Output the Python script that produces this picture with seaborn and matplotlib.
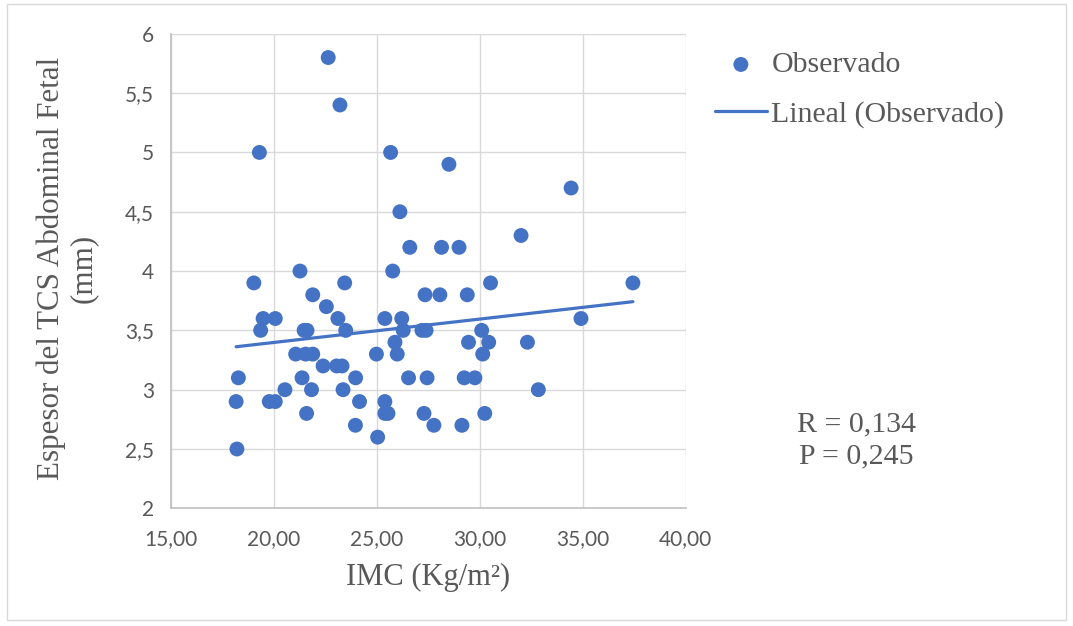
import matplotlib
matplotlib.use('Agg')
import matplotlib.pyplot as plt
import seaborn as sns
import pandas as pd
from matplotlib.patches import Rectangle

# IMC (Kg/m2) y espesor TCS (mm)
imc = [22.65, 23.22, 19.31, 25.68, 28.51, 34.44, 26.13, 32.01, 26.61, 28.15,
       29.00, 21.28, 25.78, 19.04, 23.45, 30.53, 37.44, 21.90, 27.35, 28.07,
       29.40, 22.56, 19.49, 20.08, 23.12, 25.40, 26.22, 34.92, 19.37, 21.48,
       21.62, 23.50, 26.29, 27.20, 27.40, 30.10, 25.89, 29.46, 30.44, 32.32,
       21.07, 21.55, 21.90, 24.99, 26.00, 30.15, 22.40, 23.06, 23.32, 18.29,
       21.38, 23.98, 26.55, 27.45, 29.25, 29.77, 20.55, 21.84, 23.37, 32.85,
       18.18, 19.79, 20.08, 24.17, 25.40, 21.60, 25.40, 25.55, 27.30, 30.25,
       23.97, 27.78, 29.14, 25.05, 18.22]
espesor = [5.8, 5.4, 5.0, 5.0, 4.9, 4.7, 4.5, 4.3, 4.2, 4.2,
           4.2, 4.0, 4.0, 3.9, 3.9, 3.9, 3.9, 3.8, 3.8, 3.8,
           3.8, 3.7, 3.6, 3.6, 3.6, 3.6, 3.6, 3.6, 3.5, 3.5,
           3.5, 3.5, 3.5, 3.5, 3.5, 3.5, 3.4, 3.4, 3.4, 3.4,
           3.3, 3.3, 3.3, 3.3, 3.3, 3.3, 3.2, 3.2, 3.2, 3.1,
           3.1, 3.1, 3.1, 3.1, 3.1, 3.1, 3.0, 3.0, 3.0, 3.0,
           2.9, 2.9, 2.9, 2.9, 2.9, 2.8, 2.8, 2.8, 2.8, 2.8,
           2.7, 2.7, 2.7, 2.6, 2.5]

x_ticks = [15, 20, 25, 30, 35, 40]
x_labels = ['15,00', '20,00', '25,00', '30,00', '35,00', '40,00']
y_ticks = [2, 2.5, 3, 3.5, 4, 4.5, 5, 5.5, 6]
y_labels = ['2', '2,5', '3', '3,5', '4', '4,5', '5', '5,5', '6']

df = pd.DataFrame({'imc': imc, 'espesor': espesor})

sns.set_theme(style="white")
blue = '#4472C4'
gray = '#595959'
serif = 'Liberation Serif'

fig = plt.figure(figsize=(10.73, 6.26), dpi=100)
ax = fig.add_axes([0.159, 0.188, 0.480, 0.758])

sns.scatterplot(data=df, x='imc', y='espesor', ax=ax, color=blue, s=115,
                edgecolor='none', label='Observado', zorder=3)
sns.regplot(data=df, x='imc', y='espesor', ax=ax, scatter=False, ci=None,
            color=blue, line_kws={'linewidth': 2.3, 'zorder': 4})
ax.lines[-1].set_label('Lineal (Observado)')

ax.set_xlim(15, 40)
ax.set_ylim(2, 6)
ax.set_xticks(x_ticks)
ax.set_xticklabels(x_labels)
ax.set_yticks(y_ticks)
ax.set_yticklabels(y_labels)
ax.grid(True, color='#d9d9d9', linewidth=1.0)
ax.set_axisbelow(True)
for side in ['top', 'right']:
    ax.spines[side].set_visible(False)
for side in ['left', 'bottom']:
    ax.spines[side].set_color('#bfbfbf')
    ax.spines[side].set_linewidth(1.2)
ax.tick_params(axis='both', length=0, labelsize=15, labelcolor=gray)
ax.tick_params(axis='x', pad=15)
ax.tick_params(axis='y', pad=12)
for lab in ax.get_xticklabels() + ax.get_yticklabels():
    lab.set_family('Lato')

ax.set_xlabel('IMC (Kg/m²)', fontsize=22, color=gray, family=serif, labelpad=10)
ax.set_ylabel('Espesor del TCS Abdominal Fetal\n(mm)', fontsize=22.3, color=gray,
              family=serif, linespacing=1.12)
ax.yaxis.set_label_coords(-0.142, 0.505)

leg = ax.legend(loc='upper left', bbox_to_anchor=(0.655, 0.937),
                bbox_transform=fig.transFigure, frameon=False,
                prop={'family': serif, 'size': 21.5}, handlelength=1.75,
                handletextpad=0.15, labelspacing=0.75, borderaxespad=0)
for t in leg.get_texts():
    t.set_color(gray)

fig.text(0.798, 0.297, 'R = 0,134\nP = 0,245', ha='center', va='center',
         fontsize=21.5, color=gray, family=serif, linespacing=1.3)

fig.patches.append(Rectangle((7 / 1073, 6 / 626), 1059 / 1073, 616 / 626,
                             transform=fig.transFigure, fill=False,
                             edgecolor='#d9d9d9', linewidth=1.0))

fig.savefig('out.png', dpi=100)
